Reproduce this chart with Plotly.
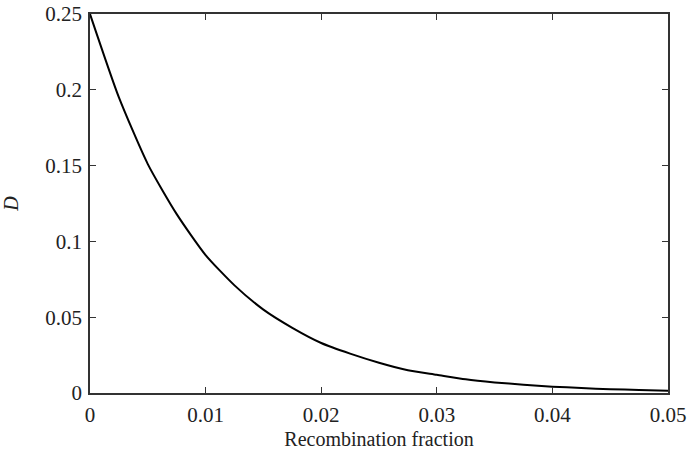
import plotly.graph_objects as go

# Recombination fraction vs. linkage disequilibrium D
recomb_fraction = [0, 0.0025, 0.005, 0.0075, 0.01, 0.0125, 0.015, 0.0175, 0.02,
                   0.0225, 0.025, 0.0275, 0.03, 0.0325, 0.035, 0.0375, 0.04,
                   0.0425, 0.045, 0.0475, 0.05]
d_values = [0.25, 0.195, 0.151, 0.118, 0.091, 0.071, 0.055, 0.043, 0.033,
            0.026, 0.020, 0.015, 0.012, 0.009, 0.007, 0.0055, 0.0042,
            0.0033, 0.0025, 0.002, 0.0015]

x_ticks = [0, 0.01, 0.02, 0.03, 0.04, 0.05]
x_tick_labels = ["0", "0.01", "0.02", "0.03", "0.04", "0.05"]
y_ticks = [0, 0.05, 0.1, 0.15, 0.2, 0.25]
y_tick_labels = ["0", "0.05", "0.1", "0.15", "0.2", "0.25"]

font_family = "Liberation Serif"

fig = go.Figure()
fig.add_trace(go.Scatter(
    x=recomb_fraction, y=d_values, mode="lines",
    line=dict(color="black", width=2, shape="spline", smoothing=0.6),
    showlegend=False, hoverinfo="skip",
))

axis_common = dict(
    showgrid=False, zeroline=False, showline=True, linecolor="#333333",
    linewidth=1.5, mirror="allticks", ticks="inside", ticklen=6,
    tickwidth=1.2, tickcolor="#333333", automargin=False,
    tickfont=dict(family=font_family, size=21, color="#222222"),
)

fig.update_layout(
    width=688, height=455,
    margin=dict(l=90, r=20, t=14, b=62),
    paper_bgcolor="white", plot_bgcolor="white",
    xaxis=dict(range=[0, 0.05], tickvals=x_ticks, ticktext=x_tick_labels,
               ticklabelstandoff=2,
               title=dict(text="Recombination fraction", standoff=6,
                          font=dict(family=font_family, size=20, color="#222222")),
               **axis_common),
    yaxis=dict(range=[0, 0.25], tickvals=y_ticks, ticktext=y_tick_labels,
               ticklabelstandoff=2,
               title=dict(text="<i>D</i>", standoff=22,
                          font=dict(family=font_family, size=20, color="#222222")),
               **axis_common),
)

fig.write_html("out.html")
